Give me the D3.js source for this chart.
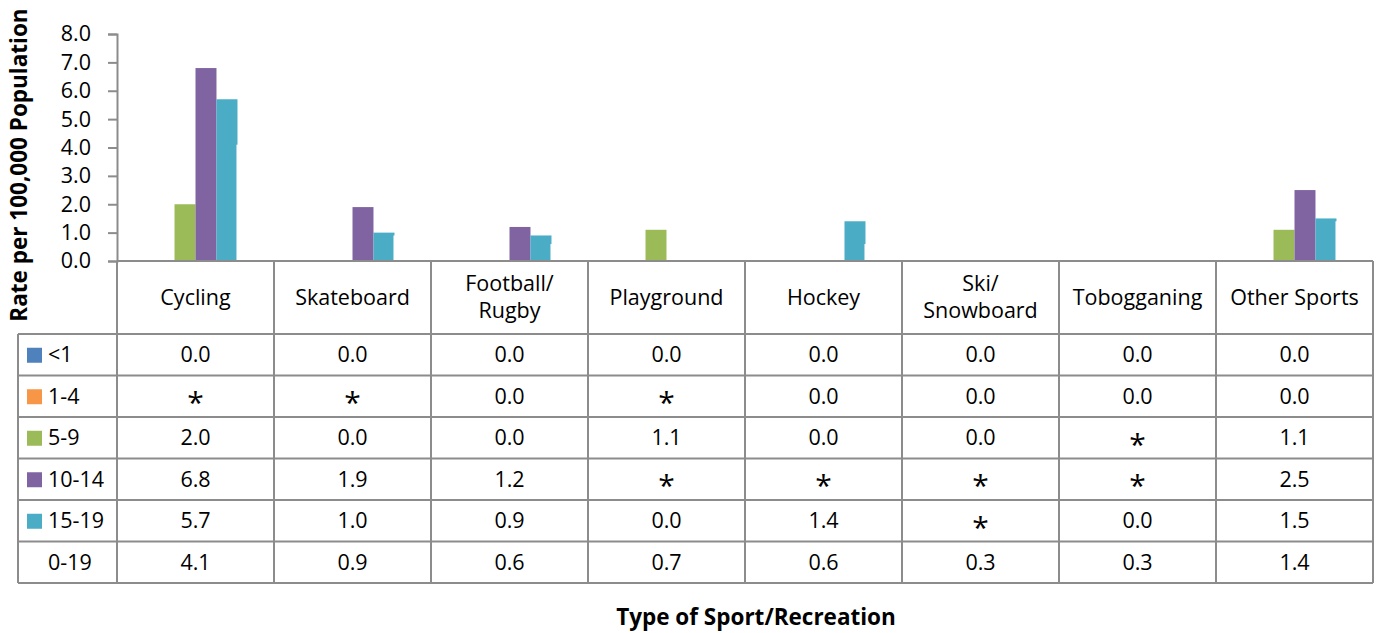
<html>
<head>
<script src="https://d3js.org/d3.v7.min.js"></script>
<style>
  body { margin: 0; background: #fff; }
  text { font-family: "Open Sans", Lato, sans-serif; fill: #000; }
</style>
</head>
<body>
<svg id="chart" width="1378" height="633"></svg>
<script>
// categories and series
const sports = ["Cycling", "Skateboard", "Football/\nRugby", "Playground", "Hockey", "Ski/\nSnowboard", "Tobogganing", "Other Sports"];
const groups = ["<1", "1-4", "5-9", "10-14", "15-19", "0-19"];
const colors = ["#4f81bd", "#f79646", "#9bbb59", "#8064a2", "#4bacc6", "#ffffff"];
// null = suppressed value shown as "*"
const under1 = [0.0, 0.0, 0.0, 0.0, 0.0, 0.0, 0.0, 0.0];
const age1to4 = [null, null, 0.0, null, 0.0, 0.0, 0.0, 0.0];
const age5to9 = [2.0, 0.0, 0.0, 1.1, 0.0, 0.0, null, 1.1];
const age10to14 = [6.8, 1.9, 1.2, null, null, null, null, 2.5];
const age15to19 = [5.7, 1.0, 0.9, 0.0, 1.4, null, 0.0, 1.5];
const all0to19 = [4.1, 0.9, 0.6, 0.7, 0.6, 0.3, 0.3, 1.4];
const yTicks = [0, 1, 2, 3, 4, 5, 6, 7, 8];

const series = [under1, age1to4, age5to9, age10to14, age15to19, all0to19];

const svg = d3.select("#chart");
const left = 117, right = 1373, tableLeft = 18;
const yTop = 34, yBase = 261;
const headerBottom = 334, rowH = 41.5;
const grey = "#8c8c8c";
const fs = 21.5;

const x = d3.scaleBand().domain(d3.range(sports.length)).range([left, right]);
const xs = d3.scaleBand().domain(d3.range(groups.length)).range([0, x.bandwidth()])
    .paddingInner(0).paddingOuter(0.74);
const y = d3.scaleLinear().domain([0, 8]).range([yBase, yTop]);

// bars
const barData = [];
series.forEach((vals, si) => vals.forEach((v, ci) => {
    if (v != null && v > 0) barData.push({ si, ci, v });
}));
svg.append("g").selectAll("rect").data(barData).join("rect")
    .attr("x", d => x(d.ci) + xs(d.si) - (d.si == 5 ? 1 : 0))
    .attr("y", d => y(d.v))
    .attr("width", xs.bandwidth())
    .attr("height", d => yBase - y(d.v))
    .attr("fill", d => colors[d.si]);

// y axis
const yAxis = svg.append("g").attr("transform", `translate(${left},0)`)
    .call(d3.axisLeft(y).tickValues(yTicks).tickFormat(d3.format(".1f")).tickSize(9).tickPadding(17));
yAxis.select(".domain").attr("stroke", grey).attr("stroke-width", 2);
yAxis.selectAll(".tick line").attr("stroke", grey).attr("stroke-width", 2);
yAxis.selectAll(".tick text").attr("font-size", fs).attr("font-family", "'Open Sans', sans-serif").attr("fill", "#000");

svg.append("text")
    .attr("transform", `translate(27,165) rotate(-90)`)
    .attr("text-anchor", "middle")
    .attr("font-weight", "bold").attr("font-size", 22.5)
    .text("Rate per 100,000 Population");

// table grid
const tableBottom = headerBottom + rowH * groups.length;
const g = svg.append("g").attr("stroke", grey).attr("stroke-width", 2).attr("fill", "none");
g.append("line").attr("x1", left).attr("x2", right).attr("y1", yBase).attr("y2", yBase);
d3.range(groups.length + 1).forEach(i => {
    g.append("line").attr("x1", tableLeft).attr("x2", right)
        .attr("y1", headerBottom + i * rowH).attr("y2", headerBottom + i * rowH);
});
d3.range(sports.length + 1).forEach(i => {
    const xx = i == sports.length ? right : x(i);
    g.append("line").attr("x1", xx).attr("x2", xx).attr("y1", yBase).attr("y2", tableBottom);
});
g.append("line").attr("x1", tableLeft).attr("x2", tableLeft).attr("y1", headerBottom).attr("y2", tableBottom);

// header labels
sports.forEach((s, i) => {
    const lines = s.split("\n");
    const t = svg.append("text").attr("text-anchor", "middle").attr("font-size", fs)
        .attr("x", x(i) + x.bandwidth() / 2);
    const mid = (yBase + headerBottom) / 2;
    lines.forEach((l, k) => {
        t.append("tspan").attr("x", x(i) + x.bandwidth() / 2)
            .attr("y", mid + 7 + (k - (lines.length - 1) / 2) * 27).text(l);
    });
});

// row labels with legend keys
groups.forEach((gname, r) => {
    const cy = headerBottom + r * rowH + rowH / 2;
    if (r < 5) {
        svg.append("rect").attr("x", 27).attr("y", cy - 7).attr("width", 15).attr("height", 15)
            .attr("fill", colors[r]);
    }
    svg.append("text").attr("x", 48).attr("y", cy + 7.5).attr("font-size", fs).text(gname);
    series[r].forEach((v, ci) => {
        const cx = x(ci) + x.bandwidth() / 2;
        if (v == null) {
            svg.append("text").attr("x", cx).attr("y", cy + 17).attr("text-anchor", "middle")
                .attr("font-size", 30).attr("font-family", "DejaVu Sans, sans-serif").text("*");
        } else {
            svg.append("text").attr("x", cx).attr("y", cy + 7.5).attr("text-anchor", "middle")
                .attr("font-size", fs).text(d3.format(".1f")(v));
        }
    });
});

svg.append("text").attr("x", 756).attr("y", 625).attr("text-anchor", "middle")
    .attr("font-weight", "bold").attr("font-size", 22.5).text("Type of Sport/Recreation");
</script>
</body>
</html>
